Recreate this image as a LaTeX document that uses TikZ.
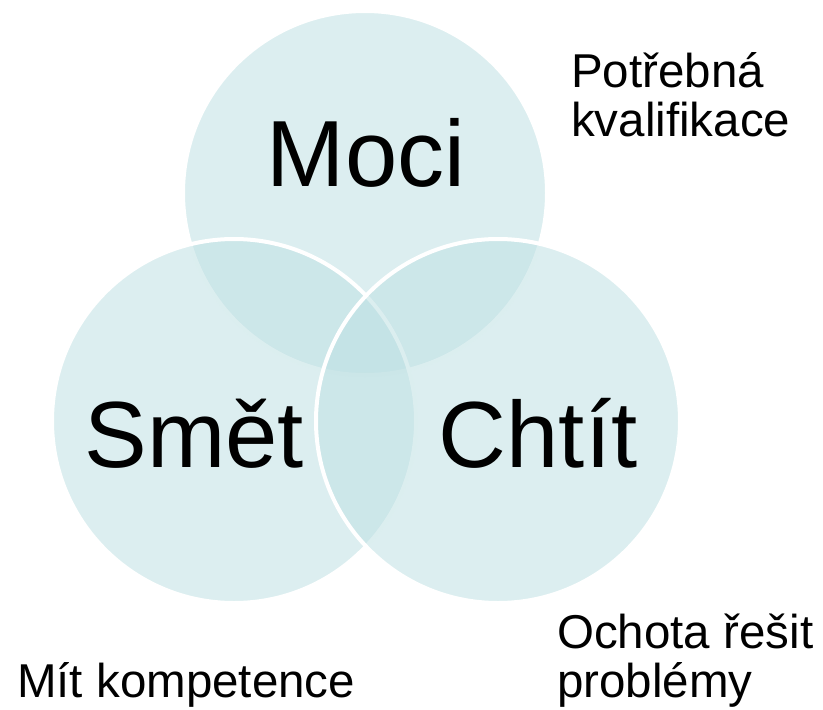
\documentclass[tikz,border=0pt]{standalone}
\usepackage{fontspec}
\setmainfont{Liberation Sans}
\usepackage{xcolor}
\usepackage{tikz}
\usetikzlibrary{positioning}
\definecolor{venn blue}{RGB}{190,224,227}

\begin{document}
\begin{tikzpicture}[x=1pt,y=-1pt,
	set/.style={circle,minimum size=364pt,inner sep=0pt,draw=white,line width=4pt,fill=venn blue,fill opacity=0.54,draw opacity=1},
	big word/.style={font=\fontsize{94}{100}\selectfont,inner sep=0pt,anchor=base},
	note/.style={font=\fontsize{47.5}{49}\selectfont,inner sep=0pt,align=left,anchor=base west}]
	\useasboundingbox (0,0) rectangle (823,710);
	
	\node[set] (moci set) at (365,193) {};
	\node[set] (smet set) at (234,421) {};
	\node[set] (chtit set) at (498,421) {};
	
	\node[big word] (moci) at (366,186) {Moci};
	\node[big word] (smet) at (194,467) {Smět};
	\node[big word] (chtit) at (538,467) {Chtít};
	
	% base of a two line note is its last line
	\node[note] (kvalifikace) at (571,136) {Potřebná\\kvalifikace};
	\node[note] (ochota) at (557,697) {Ochota řešit\\problémy};
	\node[note] (kompetence) at (17,697) {Mít kompetence};
	
\end{tikzpicture}
\end{document}
